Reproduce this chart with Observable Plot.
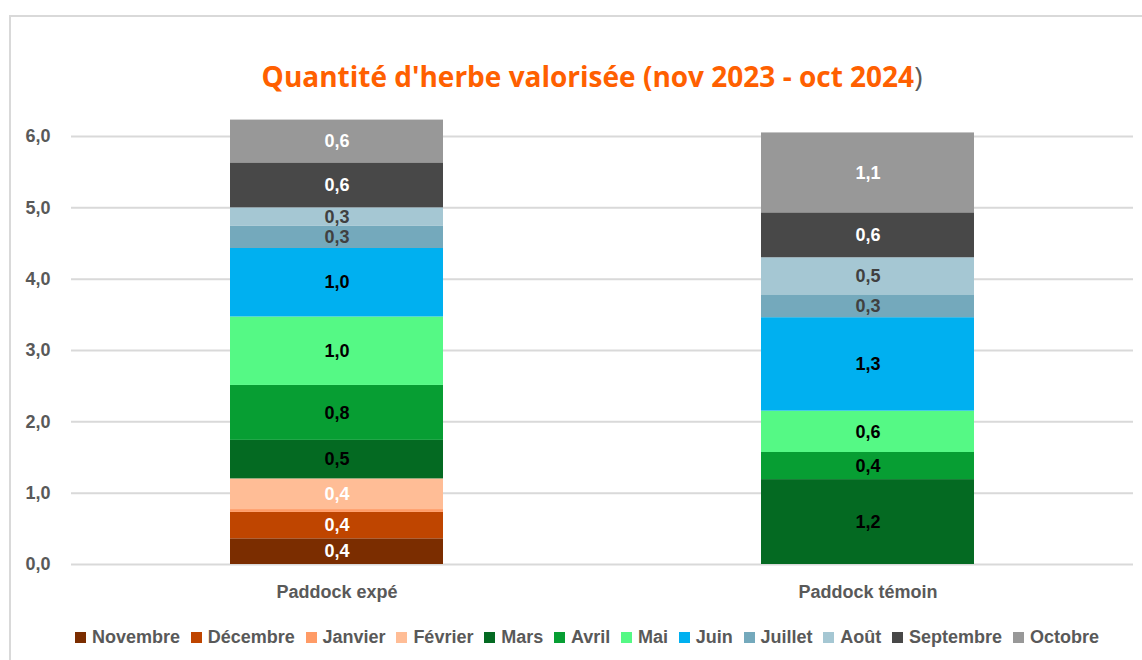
<!DOCTYPE html>
<html>
<head>
<meta charset="utf-8">
<script src="https://cdn.jsdelivr.net/npm/d3@7"></script>
<script src="https://cdn.jsdelivr.net/npm/@observablehq/plot@0.6"></script>
<style>
  body { margin: 0; background: #fff; }
  #wrap { position: relative; width: 1142px; height: 660px; overflow: hidden; background: #fff;
          font-family: "Liberation Sans", Arial, sans-serif; }
  #frame { position: absolute; left: 9px; top: 15px; width: 1300px; height: 800px;
           border-left: 2px solid #d9d9d9; border-top: 2px solid #d9d9d9; }
  #title { position: absolute; left: 0; width: 1184px; top: 56px; text-align: center;
           line-height: 40px; white-space: nowrap; }
  #title span.t { font-family: "Open Sans", "Noto Sans", sans-serif; font-weight: 700; color: #FF6000; }
  #title span.p { font-family: "Open Sans", "Noto Sans", sans-serif; font-weight: 400; color: #595959; }
  #plot { position: absolute; left: 0; top: 110px; }
  #legend { position: absolute; left: 75px; width: 1024px; top: 626px; height: 22px;
            display: flex; justify-content: space-between; align-items: center;
            font-size: 18px; font-weight: 700; color: #595959; }
  #legend .it { display: flex; align-items: center; white-space: nowrap; }
  #legend .sw { width: 11px; height: 11px; margin-right: 6px; display: inline-block; }
</style>
</head>
<body>
<div id="wrap">
  <div id="frame"></div>
  <div id="title"><span id="tt"><span class="t">Quantité d'herbe valorisée (nov 2023 - oct 2024</span><span class="p">)</span></span></div>
  <div id="plot"></div>
  <div id="legend"></div>
</div>
<script>
const paddocks = ["Paddock expé", "Paddock témoin"];
const months = ["Novembre", "Décembre", "Janvier", "Février", "Mars", "Avril", "Mai", "Juin", "Juillet", "Août", "Septembre", "Octobre"];
const monthColors = ["#7B2D00", "#BF4500", "#FF9B66", "#FFBD96", "#046A22", "#079E33", "#55F985", "#00B0F0", "#74A9BC", "#A5C7D3", "#484848", "#989898"];
const labelColors = ["#ffffff", "#ffffff", "#ffffff", "#ffffff", "#000000", "#000000", "#000000", "#000000", "#404040", "#404040", "#ffffff", "#ffffff"];
const expeValues = [0.36, 0.37, 0.04, 0.43, 0.54, 0.77, 0.96, 0.96, 0.31, 0.26, 0.63, 0.60];
const temoinValues = [0, 0, 0, 0, 1.19, 0.38, 0.58, 1.31, 0.32, 0.52, 0.63, 1.12];
const yTicks = [0, 1, 2, 3, 4, 5, 6];

const data = [];
[expeValues, temoinValues].forEach((vals, i) => {
  vals.forEach((v, j) => {
    if (v > 0) data.push({paddock: paddocks[i], month: months[j], value: v, label: labelColors[j]});
  });
});

const fmt = v => v.toFixed(1).replace(".", ",");
const uniqueLabelColors = [...new Set(labelColors)];

const textMarks = uniqueLabelColors.map(c => Plot.text(data, Plot.stackY({
  x: "paddock", y: "value", z: "month",
  text: d => (d.label === c && d.value >= 0.1) ? fmt(d.value) : null,
  fill: c, fontSize: 18, fontWeight: "bold"
})));

const chart = Plot.plot({
  width: 1142, height: 495,
  marginLeft: 71, marginRight: 9, marginTop: 26, marginBottom: 41,
  style: {fontFamily: "'Liberation Sans', Arial, sans-serif", background: "transparent", overflow: "visible"},
  x: {domain: paddocks, paddingInner: 0.599, paddingOuter: 0.2995, label: null},
  y: {domain: [0, 6], label: null},
  color: {domain: months, range: monthColors},
  marks: [
    Plot.gridY(yTicks, {stroke: "#d9d9d9", strokeOpacity: 1, strokeWidth: 2}),
    Plot.axisY(yTicks, {tickSize: 0, tickPadding: 21, tickFormat: d => d.toFixed(1).replace(".", ","),
      fontSize: 18, fontWeight: "bold", fill: "#595959", label: null}),
    Plot.axisX({tickSize: 0, tickPadding: 21, fontSize: 18, fontWeight: "bold", fill: "#595959", label: null}),
    Plot.barY(data, {x: "paddock", y: "value", z: "month", fill: "month"}),
    ...textMarks
  ]
});
document.getElementById("plot").appendChild(chart);

// legend
const legend = document.getElementById("legend");
months.forEach((m, i) => {
  const it = document.createElement("div");
  it.className = "it";
  const sw = document.createElement("span");
  sw.className = "sw";
  sw.style.background = monthColors[i];
  it.appendChild(sw);
  it.appendChild(document.createTextNode(m));
  legend.appendChild(it);
});

// fit title to reference width
const tt = document.getElementById("tt");
let fs = 26;
tt.style.fontSize = fs + "px";
const w = tt.getBoundingClientRect().width;
fs = fs * 661 / w;
tt.style.fontSize = fs + "px";
</script>
</body>
</html>
